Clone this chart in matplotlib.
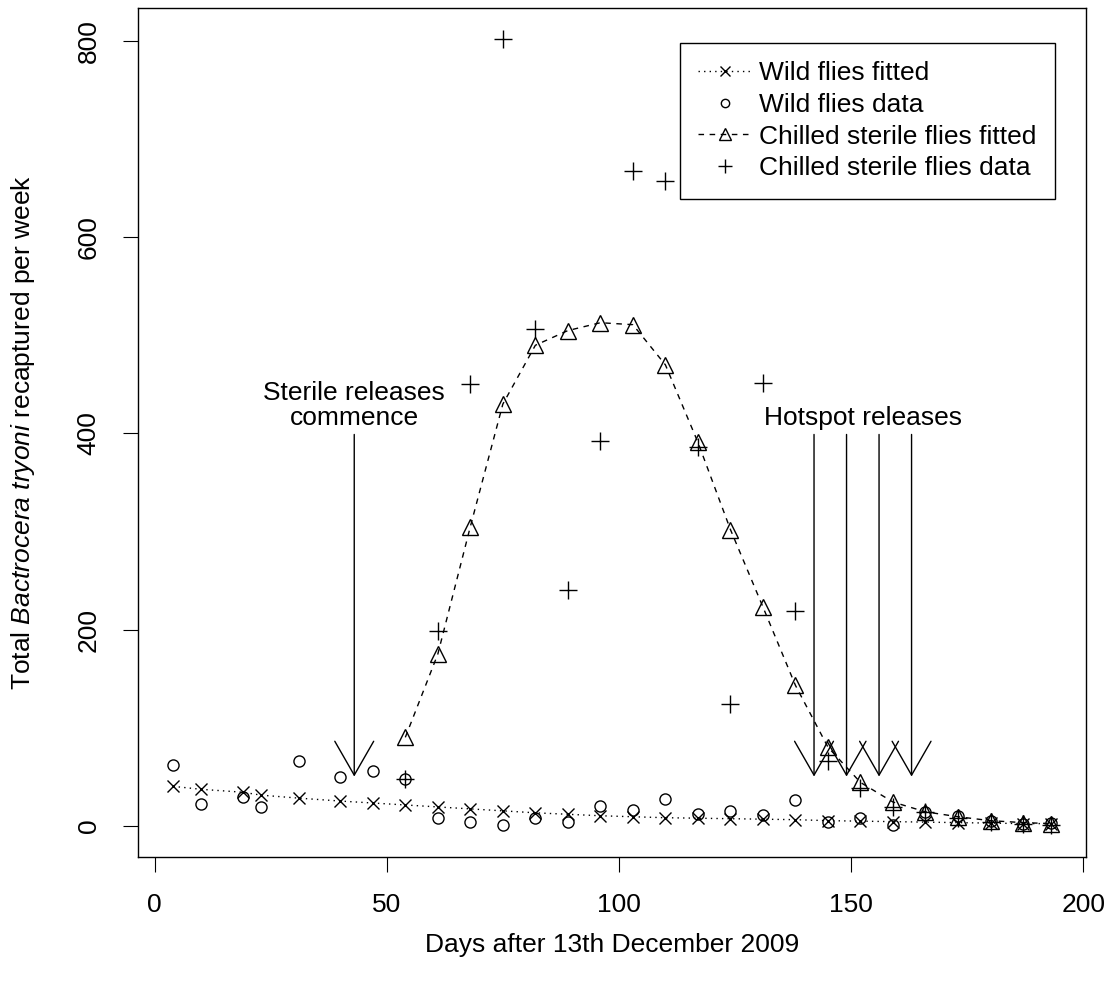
import numpy as np
import matplotlib
matplotlib.use("Agg")
import matplotlib.pyplot as plt

plt.rcParams['font.family'] = ['Liberation Sans', 'DejaVu Sans']
plt.rcParams['mathtext.fontset'] = 'custom'
plt.rcParams['mathtext.rm'] = 'Liberation Sans'
plt.rcParams['mathtext.it'] = 'Liberation Sans:italic'

# sampling days (weekly trap checks)
days = [4, 10, 19, 23, 31, 40, 47, 54, 61, 68, 75, 82, 89, 96, 103, 110,
        117, 124, 131, 138, 145, 152, 159, 166, 173, 180, 187, 193]
wild_fitted = [40, 37, 34, 31, 28, 25, 23, 21, 19, 17, 15, 13, 11.5, 10, 9, 8,
               7.5, 7, 6.5, 6, 5, 4.5, 4, 3.5, 3, 2.5, 2, 2]
wild_data = [62, 22, 29, 19, 66, 50, 56, 48, 8, 4, 1, 8, 4, 20, 16, 27,
             12, 15, 11, 26, 4, 8, 1, 14, 10, 5, 2, 3]

sterile_days = days[7:]
sterile_fitted = [90, 175, 305, 430, 490, 505, 513, 511, 470, 391, 302,
                  223, 143, 80, 44, 24, 14, 9, 5, 3, 2]
sterile_data = [48, 198, 450, 802, 507, 240, 392, 668, 658, 386, 124,
                452, 219, 66, 38, 19, 14, 8, 4, 2, 1]

commence_day = [43]
hotspot_days = [142, 149, 156, 163]
arrow_top = 399
arrow_tip = 50
note_y = 409

FS = 19

fig = plt.figure(figsize=(11.1, 9.91), dpi=100)
ax = fig.add_axes([138 / 1110, 1 - 857 / 991, 948 / 1110, 849 / 991])

ax.plot(days, wild_fitted, color='black', lw=1.0, ls=(0, (1, 3)),
        marker='x', ms=9, mew=1.0, label='Wild flies fitted')
ax.plot(days, wild_data, ls='none', marker='o', ms=8, mfc='none',
        mec='black', mew=1.0, label='Wild flies data')
ax.plot(sterile_days, sterile_fitted, color='black', lw=1.0, ls=(0, (4, 4)),
        marker='^', ms=11, mfc='none', mec='black', mew=1.0,
        label='Chilled sterile flies fitted')
ax.plot(sterile_days, sterile_data, ls='none', marker='+', ms=13,
        mec='black', mew=1.0, label='Chilled sterile flies data')

arrow_kw = dict(arrowstyle='->,head_length=1.22,head_width=0.7',
                color='black', lw=1.0, shrinkA=0, shrinkB=0, mutation_scale=20)
for d in commence_day + hotspot_days:
    ax.annotate('', xy=(d, arrow_tip), xytext=(d, arrow_top), arrowprops=arrow_kw)

ax.text(commence_day[0], note_y, 'Sterile releases\ncommence', ha='center',
        va='baseline', fontsize=FS, linespacing=1.05)
ax.text(np.mean(hotspot_days), note_y, 'Hotspot releases', ha='center',
        va='baseline', fontsize=FS)

# R-style 4% padding around data range
allx = np.array(days)
ally = np.concatenate([wild_fitted, wild_data, sterile_fitted, sterile_data])
px = 0.04 * (allx.max() - allx.min())
py = 0.04 * (ally.max() - 0)
ax.set_xlim(allx.min() - px, allx.max() + px)
ax.set_ylim(0 - py, ally.max() + py)

ax.set_xticks([0, 50, 100, 150, 200])
ax.set_yticks([0, 200, 400, 600, 800])
ax.tick_params(direction='out', length=10.8, width=0.8, labelsize=FS)
ax.tick_params(axis='x', pad=15)
ax.tick_params(axis='y', pad=16, labelrotation=90)
for lab in ax.get_yticklabels():
    lab.set_va('center')
for s in ax.spines.values():
    s.set_linewidth(1.0)

ax.set_xlabel('Days after 13th December 2009', fontsize=FS)
ax.xaxis.set_label_coords(0.5, -0.09)
ax.set_ylabel(r'Total $\it{Bactrocera\ tryoni}$ recaptured per week', fontsize=FS)
ax.yaxis.set_label_coords(-0.107, 0.5)

leg = ax.legend(loc='upper right', bbox_to_anchor=(0.967, 0.959), borderaxespad=0,
                fontsize=FS, frameon=True, fancybox=False, edgecolor='black',
                framealpha=1, handlelength=2.0, handletextpad=0.3,
                labelspacing=0.29, borderpad=0.7, markerscale=0.75)
leg.get_frame().set_linewidth(1.0)

fig.savefig('out.png', dpi=100)
